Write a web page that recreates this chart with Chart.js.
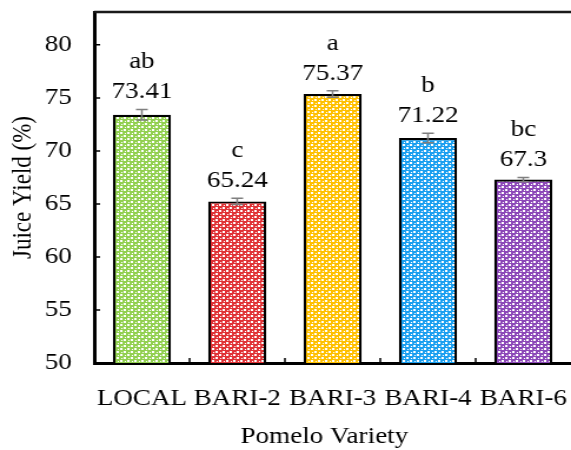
<!DOCTYPE html>
<html>
<head>
<meta charset="utf-8">
<script src="https://cdn.jsdelivr.net/npm/chart.js@4/dist/chart.umd.min.js"></script>
<style>
  html, body { margin: 0; padding: 0; background: #fff; overflow: hidden; }
  #wrap { width: 571px; height: 450px; }
</style>
</head>
<body>
<!-- drawing surface is narrower than the box: the reference figure is stretched sideways -->
<div id="wrap"><canvas id="juiceChart" width="485" height="450" style="display:block;width:571px;height:450px"></canvas></div>
<script>
// --- Data ---
const varieties = ['LOCAL', 'BARI-2', 'BARI-3', 'BARI-4', 'BARI-6'];
const juiceYield = [73.41, 65.24, 75.37, 71.22, 67.3];
const stdErr = [0.5, 0.3, 0.3, 0.45, 0.2];
const groupLetters = ['ab', 'c', 'a', 'b', 'bc'];
const yTicks = [50, 55, 60, 65, 70, 75, 80];

const barColors = ['#92d050', '#e03236', '#ffc000', '#1a9ff0', '#8c48b8'];
const FONT = "'Liberation Serif', 'Times New Roman', serif";

// small lattice pattern like the office fill
function makePattern(color) {
  const c = document.createElement('canvas');
  c.width = 6; c.height = 6;
  const g = c.getContext('2d');
  g.fillStyle = color;
  g.fillRect(0, 0, 6, 6);
  g.fillStyle = '#ffffff';
  g.fillRect(0, 0, 2, 2);
  g.fillRect(3, 3, 2, 2);
  g.fillRect(4, 1, 1, 1);
  g.fillRect(1, 4, 1, 1);
  return g.createPattern(c, 'repeat');
}

// --- Extra drawing: frame top, inner ticks, error bars, labels, x title ---
const decorPlugin = {
  id: 'decor',
  afterDatasetsDraw(chart) {
    const { ctx, chartArea, scales } = chart;
    const x = scales.x, y = scales.y;
    ctx.save();

    // top frame line
    ctx.strokeStyle = '#1a1a1a';
    ctx.lineWidth = 2.5;
    ctx.beginPath();
    ctx.moveTo(chartArea.left, chartArea.top);
    ctx.lineTo(chart.width, chartArea.top);
    ctx.stroke();

    // inward tick marks
    ctx.strokeStyle = '#000';
    ctx.lineWidth = 1.5;
    ctx.beginPath();
    yTicks.forEach(v => {
      const py = y.getPixelForValue(v);
      ctx.moveTo(chartArea.left, py);
      ctx.lineTo(chartArea.left + 5, py);
    });
    for (let i = 1; i < varieties.length; i++) {
      const px = (x.getPixelForValue(i - 1) + x.getPixelForValue(i)) / 2;
      ctx.moveTo(px, chartArea.bottom);
      ctx.lineTo(px, chartArea.bottom - 5);
    }
    ctx.stroke();

    // error bars
    const meta = chart.getDatasetMeta(0);
    ctx.strokeStyle = '#7f7f7f';
    ctx.lineWidth = 1.5;
    meta.data.forEach((bar, i) => {
      const top = y.getPixelForValue(juiceYield[i] + stdErr[i]);
      const bot = y.getPixelForValue(juiceYield[i] - stdErr[i]);
      ctx.beginPath();
      ctx.moveTo(bar.x, top); ctx.lineTo(bar.x, bot);
      ctx.moveTo(bar.x - 5, top); ctx.lineTo(bar.x + 5, top);
      ctx.moveTo(bar.x - 5, bot); ctx.lineTo(bar.x + 5, bot);
      ctx.stroke();
    });

    // value and letter labels
    ctx.fillStyle = '#000';
    ctx.font = '23px ' + FONT;
    ctx.textAlign = 'center';
    ctx.textBaseline = 'alphabetic';
    meta.data.forEach((bar, i) => {
      const top = y.getPixelForValue(juiceYield[i] + stdErr[i]);
      ctx.fillText(String(juiceYield[i]), bar.x, top - 11);
      ctx.fillText(groupLetters[i], bar.x, top - 41);
    });

    // x axis title (sits a little left of the plot centre in the original)
    ctx.fillText('Pomelo Variety', (chartArea.left + chartArea.right) / 2 - 7, chartArea.bottom + 80);

    ctx.restore();
  }
};

const ctx = document.getElementById('juiceChart').getContext('2d');
new Chart(ctx, {
  type: 'bar',
  data: {
    labels: varieties,
    datasets: [{
      data: juiceYield,
      backgroundColor: barColors.map(makePattern),
      borderColor: '#000',
      borderWidth: 2.2,
      barPercentage: 0.61,
      categoryPercentage: 1
    }]
  },
  options: {
    responsive: false,
    devicePixelRatio: 1,
    animation: false,
    layout: { padding: { top: 12, right: -3, left: 0, bottom: 0 } },
    plugins: { legend: { display: false }, tooltip: { enabled: false } },
    scales: {
      x: {
        grid: { display: false, drawTicks: false },
        border: { display: true, color: '#000', width: 3 },
        ticks: { color: '#000', padding: 22, maxRotation: 0, autoSkip: false, font: { family: FONT, size: 23 } },
        afterFit: s => { s.height = 87; s.paddingLeft = 0; s.paddingRight = 0; }
      },
      y: {
        min: 50,
        max: 83.1,
        grid: { display: false, drawTicks: false },
        border: { display: true, color: '#000', width: 3 },
        afterBuildTicks: s => { s.ticks = yTicks.map(v => ({ value: v })); },
        ticks: { color: '#000', padding: 19, font: { family: FONT, size: 23 } },
        title: { display: true, text: 'Juice Yield (%)', color: '#000', font: { family: FONT, size: 23 }, padding: { top: 6, bottom: 0 } },
        afterFit: s => { s.width = 80; s.paddingTop = 0; s.paddingBottom = 0; }
      }
    }
  },
  plugins: [decorPlugin]
});
</script>
</body>
</html>
